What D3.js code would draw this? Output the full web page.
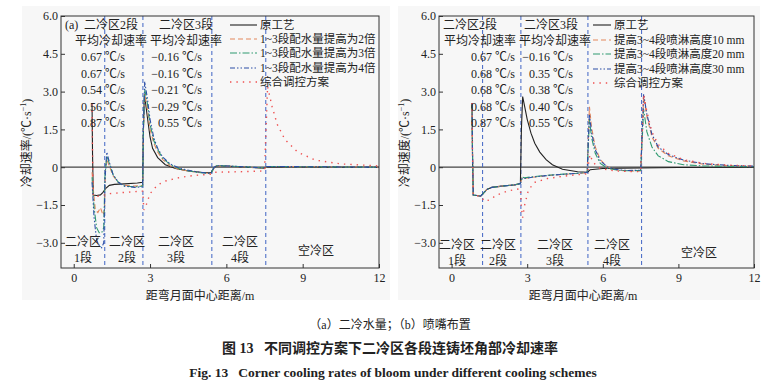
<!DOCTYPE html>
<html>
<head>
<meta charset="utf-8">
<script src="https://cdn.jsdelivr.net/npm/d3@7"></script>
<style>
  body { margin: 0; background: #fff; }
  svg { display: block; }
  text { font-family: "Liberation Serif", "Noto Sans CJK SC", serif; fill: #222; }
</style>
</head>
<body>
<svg id="fig" width="777" height="385"></svg>
<script>
// 坐标轴刻度
const xTicks = [0, 3, 6, 9, 12];
const yTicks = [6.0, 4.5, 3.0, 1.5, 0, -1.5, -3.0];

// 分区分界线 (m)
const aZoneLines = [1.22, 2.72, 5.43, 7.55];
const bZoneLines = [1.23, 2.75, 5.41, 7.54];

// (a) 二冷水量
const aOrig = [[0.72,2.5],[0.74,0.5],[0.77,-1.1],[0.9,-1.12],[1.05,-1.1],[1.15,-1.0],[1.25,-0.85],[1.4,-0.72],[1.6,-0.68],[2.0,-0.66],[2.5,-0.63],[2.71,-0.6],[2.74,1.5],[2.78,2.9],[2.88,2.1],[3.0,1.2],[3.1,0.75],[3.3,0.38],[3.6,0.1],[4.0,-0.05],[4.5,-0.15],[5.0,-0.2],[5.4,-0.22],[5.5,-0.05],[5.6,0.05],[6.0,0.05],[6.8,0.0],[7.5,-0.04],[7.6,0.02],[9,0.01],[12,0.0]];
const aWater2 = [[0.72,-0.2],[0.78,-1.0],[0.85,-1.7],[0.95,-1.8],[1.05,-1.6],[1.15,-1.9],[1.21,-1.7],[1.25,0.0],[1.3,0.3],[1.4,0.05],[1.55,-0.35],[1.75,-0.6],[2.0,-0.72],[2.4,-0.75],[2.71,-0.72],[2.74,1.5],[2.79,2.9],[2.9,2.3],[3.0,1.5],[3.15,0.95],[3.3,0.6],[3.5,0.3],[3.8,0.05],[4.2,-0.1],[4.8,-0.2],[5.4,-0.25],[5.5,-0.05],[5.6,0.05],[6.5,0.02],[7.5,-0.03],[7.6,0.03],[9,0.02],[12,0]];
const aWater3 = [[0.72,-0.4],[0.8,-1.6],[0.9,-2.4],[1.0,-2.6],[1.1,-2.6],[1.18,-2.4],[1.23,-0.3],[1.3,0.45],[1.4,0.15],[1.55,-0.3],[1.75,-0.6],[2.0,-0.75],[2.4,-0.78],[2.71,-0.75],[2.74,1.5],[2.79,3.1],[2.9,2.5],[3.0,1.7],[3.15,1.05],[3.3,0.7],[3.5,0.35],[3.8,0.1],[4.2,-0.08],[4.8,-0.2],[5.4,-0.25],[5.5,-0.03],[5.6,0.06],[6.5,0.03],[7.5,-0.03],[7.6,0.03],[9,0.02],[12,0]];
const aWater4 = [[0.72,-0.6],[0.8,-2.0],[0.9,-2.9],[1.0,-3.1],[1.1,-3.2],[1.18,-3.0],[1.23,-0.5],[1.3,0.6],[1.4,0.2],[1.55,-0.3],[1.75,-0.6],[2.0,-0.75],[2.4,-0.8],[2.71,-0.78],[2.74,1.6],[2.79,3.4],[2.9,2.7],[3.0,1.9],[3.15,1.15],[3.3,0.75],[3.5,0.4],[3.8,0.12],[4.2,-0.05],[4.8,-0.18],[5.4,-0.25],[5.5,-0.03],[5.6,0.06],[6.5,0.03],[7.5,-0.03],[7.6,0.03],[9,0.02],[12,0]];
const aComb = [[0.72,2.5],[0.74,0.5],[0.77,-1.15],[1.0,-1.15],[1.22,-1.1],[1.4,-1.05],[2.0,-1.0],[2.71,-0.95],[2.76,-1.7],[2.85,-1.5],[3.0,-1.05],[3.3,-0.7],[3.6,-0.55],[4.2,-0.4],[4.8,-0.32],[5.4,-0.28],[5.5,-0.2],[6.5,-0.18],[7.5,-0.15],[7.56,1.5],[7.62,3.2],[7.8,2.4],[8.0,1.7],[8.3,1.1],[8.8,0.6],[9.5,0.28],[10.5,0.13],[12,0.05]];

// (b) 喷嘴布置
const bOrig = [[0.81,2.55],[0.83,0.5],[0.86,-1.1],[1.0,-1.12],[1.15,-1.15],[1.25,-1.05],[1.4,-0.88],[1.6,-0.8],[2.0,-0.75],[2.5,-0.7],[2.73,-0.65],[2.77,1.5],[2.82,2.8],[2.9,2.4],[3.0,1.9],[3.15,1.35],[3.3,0.95],[3.5,0.6],[3.75,0.3],[4.0,0.1],[4.4,-0.08],[5.0,-0.18],[5.4,-0.2],[5.5,-0.1],[6.0,-0.05],[7.5,-0.03],[9,-0.01],[12,0]];
const bHeight10 = [[0.81,2.55],[0.83,0.5],[0.86,-1.1],[1.0,-1.12],[1.15,-1.15],[1.25,-1.05],[1.4,-0.88],[1.6,-0.8],[2.0,-0.75],[2.5,-0.7],[2.73,-0.65],[2.8,-0.4],[2.9,-0.45],[3.2,-0.4],[3.8,-0.33],[4.5,-0.28],[5.0,-0.25],[5.38,-0.22],[5.42,1.0],[5.47,2.4],[5.55,1.6],[5.7,0.8],[5.9,0.3],[6.2,0.0],[6.6,-0.12],[7.0,-0.15],[7.5,-0.15],[7.56,1.2],[7.62,2.8],[7.75,2.0],[7.95,1.2],[8.2,0.75],[8.6,0.45],[9.2,0.25],[10,0.12],[11,0.06],[12,0.04]];
const bHeight20 = [[0.81,2.55],[0.83,0.5],[0.86,-1.1],[1.0,-1.12],[1.15,-1.15],[1.25,-1.05],[1.4,-0.88],[1.6,-0.8],[2.0,-0.75],[2.5,-0.7],[2.73,-0.65],[2.8,-0.4],[2.9,-0.42],[3.2,-0.38],[3.8,-0.32],[4.5,-0.27],[5.0,-0.24],[5.38,-0.2],[5.42,0.8],[5.47,1.9],[5.55,1.2],[5.7,0.55],[5.9,0.15],[6.2,-0.05],[6.6,-0.12],[7.0,-0.14],[7.5,-0.13],[7.56,1.0],[7.62,2.3],[7.75,1.4],[7.95,0.8],[8.2,0.45],[8.6,0.22],[9.2,0.1],[10,0.05],[12,0.02]];
const bHeight30 = [[0.81,2.55],[0.83,0.5],[0.86,-1.1],[1.0,-1.12],[1.15,-1.15],[1.25,-1.05],[1.4,-0.88],[1.6,-0.8],[2.0,-0.75],[2.5,-0.7],[2.73,-0.65],[2.8,-0.45],[2.9,-0.45],[3.2,-0.4],[3.8,-0.33],[4.5,-0.28],[5.0,-0.24],[5.38,-0.21],[5.42,0.9],[5.47,2.1],[5.55,1.4],[5.7,0.7],[5.9,0.25],[6.2,0.0],[6.6,-0.1],[7.0,-0.13],[7.5,-0.12],[7.56,1.3],[7.62,2.9],[7.75,2.1],[7.95,1.3],[8.2,0.8],[8.6,0.5],[9.2,0.28],[10,0.14],[11,0.07],[12,0.04]];
const bComb = [[0.81,2.55],[0.83,0.5],[0.86,-1.1],[1.0,-1.12],[1.2,-1.2],[1.3,-1.35],[1.5,-1.3],[1.8,-1.1],[2.2,-0.95],[2.73,-0.85],[2.77,-1.6],[2.82,-2.0],[2.9,-1.5],[3.05,-0.9],[3.3,-0.6],[3.8,-0.45],[4.5,-0.35],[5.0,-0.3],[5.4,-0.26],[5.45,0.3],[5.5,0.5],[5.6,0.2],[5.9,-0.05],[6.5,-0.15],[7.5,-0.18],[7.56,1.2],[7.62,2.9],[7.75,2.2],[7.95,1.4],[8.2,0.9],[8.6,0.55],[9.2,0.3],[10,0.15],[11,0.08],[12,0.05]];

// 图例与平均冷却速率
const aLegend = ["原工艺", "1~3段配水量提高为2倍", "1~3段配水量提高为3倍", "1~3段配水量提高为4倍", "综合调控方案"];
const bLegend = ["原工艺", "提高3~4段喷淋高度10 mm", "提高3~4段喷淋高度20 mm", "提高3~4段喷淋高度30 mm", "综合调控方案"];
const aRate2 = ["0.67", "0.67", "0.54", "0.56", "0.87"];
const aRate3 = ["−0.16", "−0.16", "−0.21", "−0.29", "0.55"];
const bRate2 = ["0.67", "0.68", "0.68", "0.68", "0.87"];
const bRate3 = ["−0.16", "0.35", "0.38", "0.40", "0.55"];

const styles = [
  { color: "#222222", dash: null, width: 1.1 },
  { color: "#e4875c", dash: "5,3", width: 1.1 },
  { color: "#2f9a70", dash: "7,2,1.5,2", width: 1.1 },
  { color: "#2d4fa6", dash: "5,2,1.5,2,1.5,2", width: 1.1 },
  { color: "#ef5050", dash: "1.4,5", width: 1.4 }
];

const svg = d3.select("#fig");

function drawPanel(cfg) {
  const x = d3.scaleLinear().domain([-0.5, 12]).range([cfg.left, cfg.right]);
  const y = d3.scaleLinear().domain([-4, 6]).range([268, 16]);
  const g = svg.append("g");

  g.append("rect")
    .attr("x", cfg.bg[0]).attr("y", 6)
    .attr("width", cfg.bg[1] - cfg.bg[0]).attr("height", 294)
    .attr("fill", "#f7f7f7");

  const clipId = "clip-" + cfg.id;
  g.append("clipPath").attr("id", clipId)
    .append("rect")
    .attr("x", cfg.left).attr("y", 16)
    .attr("width", cfg.right - cfg.left).attr("height", 252);

  // zero line
  g.append("line")
    .attr("x1", cfg.left).attr("x2", cfg.right)
    .attr("y1", y(0)).attr("y2", y(0))
    .attr("stroke", "#444").attr("stroke-width", 1.3);

  // zone boundaries
  g.selectAll(".zone")
    .data(cfg.zones)
    .join("line")
    .attr("x1", d => x(d)).attr("x2", d => x(d))
    .attr("y1", 16).attr("y2", 268)
    .attr("stroke", "#3f64c4")
    .attr("stroke-width", 1)
    .attr("stroke-dasharray", "4,3");

  const line = d3.line().x(d => x(d[0])).y(d => y(d[1]));
  const plot = g.append("g").attr("clip-path", "url(#" + clipId + ")");
  cfg.series.forEach(function(s, i) {
    const st = styles[i];
    plot.append("path")
      .datum(s)
      .attr("d", line)
      .attr("fill", "none")
      .attr("stroke", st.color)
      .attr("stroke-width", st.width)
      .attr("stroke-dasharray", st.dash);
  });

  // axes (ticks inward)
  const yAxis = g.append("g")
    .attr("transform", "translate(" + cfg.left + ",0)")
    .call(d3.axisLeft(y).tickValues(yTicks).tickSize(-4).tickPadding(3)
      .tickFormat(d => d === 0 ? "0" : d3.format(".1f")(d).replace("-", "−")));
  const xAxis = g.append("g")
    .attr("transform", "translate(0,268)")
    .call(d3.axisBottom(x).tickValues(xTicks).tickSize(-4).tickPadding(5));
  [xAxis, yAxis].forEach(function(a) {
    a.select(".domain").remove();
    a.selectAll("line").attr("stroke", "#333");
    a.selectAll("text").attr("font-size", 12)
      .attr("font-family", "Liberation Serif").attr("fill", "#222");
  });

  g.append("rect")
    .attr("x", cfg.left).attr("y", 16)
    .attr("width", cfg.right - cfg.left).attr("height", 252)
    .attr("fill", "none").attr("stroke", "#333").attr("stroke-width", 1);

  // axis titles
  const yt = g.append("text")
    .attr("transform", "translate(" + cfg.yTitleX + ",143) rotate(-90)")
    .attr("text-anchor", "middle")
    .attr("font-size", 12);
  yt.append("tspan").text(cfg.yTitle + "/(℃·s");
  yt.append("tspan").attr("dy", -5).attr("font-size", 8).text("−1");
  yt.append("tspan").attr("dy", 5).text(")");

  g.append("text")
    .attr("x", cfg.xTitleX).attr("y", 300)
    .attr("text-anchor", "middle")
    .attr("font-size", 12)
    .text("距弯月面中心距离/m");

  if (cfg.tag) {
    g.append("text").attr("x", cfg.left + 4).attr("y", 29)
      .attr("font-size", 12).text(cfg.tag);
  }

  // average cooling rate block
  const rateY = [61, 77.5, 94, 110.5, 127];
  [[cfg.col2, cfg.rate2, "二冷区2段"], [cfg.col3, cfg.rate3, "二冷区3段"]].forEach(function(c) {
    const p = c[0];
    g.append("text").attr("x", p.head).attr("y", 29).attr("text-anchor", "middle")
      .attr("font-size", 12).text(c[2]);
    g.append("text").attr("x", p.sub).attr("y", 45).attr("text-anchor", "middle")
      .attr("font-size", 12).text("平均冷却速率");
    g.selectAll(null).data(c[1]).join("text")
      .attr("x", p.right).attr("y", (d, i) => rateY[i])
      .attr("text-anchor", "end")
      .attr("font-size", 12)
      .text(d => d + " ℃/s");
  });

  // legend
  const lg = g.append("g");
  cfg.legend.forEach(function(label, i) {
    const st = styles[i];
    const ly = cfg.legendY[i];
    lg.append("line")
      .attr("x1", cfg.legendX[0]).attr("x2", cfg.legendX[1])
      .attr("y1", ly).attr("y2", ly)
      .attr("stroke", st.color).attr("stroke-width", st.width)
      .attr("stroke-dasharray", st.dash);
    lg.append("text")
      .attr("x", cfg.legendX[1] + 3).attr("y", ly + 4)
      .attr("font-size", 11.5)
      .text(label);
  });

  // zone labels
  cfg.zoneLabels.forEach(function(z) {
    const t = g.append("text").attr("text-anchor", "middle").attr("font-size", 12);
    if (z.lines.length === 2) {
      t.append("tspan").attr("x", z.x).attr("y", z.y).text(z.lines[0]);
      t.append("tspan").attr("x", z.x).attr("y", z.y + 16).text(z.lines[1]);
    } else {
      t.attr("x", z.x).attr("y", z.y + 8).text(z.lines[0]);
    }
  });
}

drawPanel({
  id: "a", left: 61, right: 379, bg: [22, 390], tag: "(a)",
  zones: aZoneLines,
  series: [aOrig, aWater2, aWater3, aWater4, aComb],
  yTitle: "冷却速率", yTitleX: 31, xTitleX: 200,
  col2: { head: 111, sub: 111, right: 125 }, rate2: aRate2,
  col3: { head: 186, sub: 186, right: 202 }, rate3: aRate3,
  legend: aLegend, legendX: [230, 257], legendY: [25, 39, 53, 68, 82],
  zoneLabels: [
    { x: 83, y: 246, lines: ["二冷区", "1段"] },
    { x: 127, y: 246, lines: ["二冷区", "2段"] },
    { x: 176, y: 246, lines: ["二冷区", "3段"] },
    { x: 240, y: 246, lines: ["二冷区", "4段"] },
    { x: 316, y: 247, lines: ["空冷区"] }
  ]
});

drawPanel({
  id: "b", left: 439, right: 754, bg: [398, 760], tag: null,
  zones: bZoneLines,
  series: [bOrig, bHeight10, bHeight20, bHeight30, bComb],
  yTitle: "冷却速度", yTitleX: 409, xTitleX: 583,
  col2: { head: 470, sub: 480, right: 515 }, rate2: bRate2,
  col3: { head: 551, sub: 555, right: 573 }, rate3: bRate3,
  legend: bLegend, legendX: [593, 611], legendY: [25, 40, 54, 69, 83],
  zoneLabels: [
    { x: 457, y: 249, lines: ["二冷区", "1段"] },
    { x: 498, y: 249, lines: ["二冷区", "2段"] },
    { x: 555, y: 249, lines: ["二冷区", "3段"] },
    { x: 612, y: 249, lines: ["二冷区", "4段"] },
    { x: 699, y: 249, lines: ["空冷区"] }
  ]
});

// captions
svg.append("text").attr("x", 390).attr("y", 329).attr("text-anchor", "middle")
  .attr("font-size", 12).text("（a）二冷水量；（b）喷嘴布置");
svg.append("text").attr("x", 390).attr("y", 353).attr("text-anchor", "middle")
  .attr("font-size", 14).attr("font-weight", "bold")
  .attr("font-family", "Noto Sans CJK SC")
  .attr("xml:space", "preserve")
  .text("图 13   不同调控方案下二冷区各段连铸坯角部冷却速率");
svg.append("text").attr("x", 393).attr("y", 377).attr("text-anchor", "middle")
  .attr("font-size", 13.5).attr("font-weight", "bold")
  .attr("xml:space", "preserve")
  .text("Fig. 13   Corner cooling rates of bloom under different cooling schemes");
</script>
</body>
</html>
